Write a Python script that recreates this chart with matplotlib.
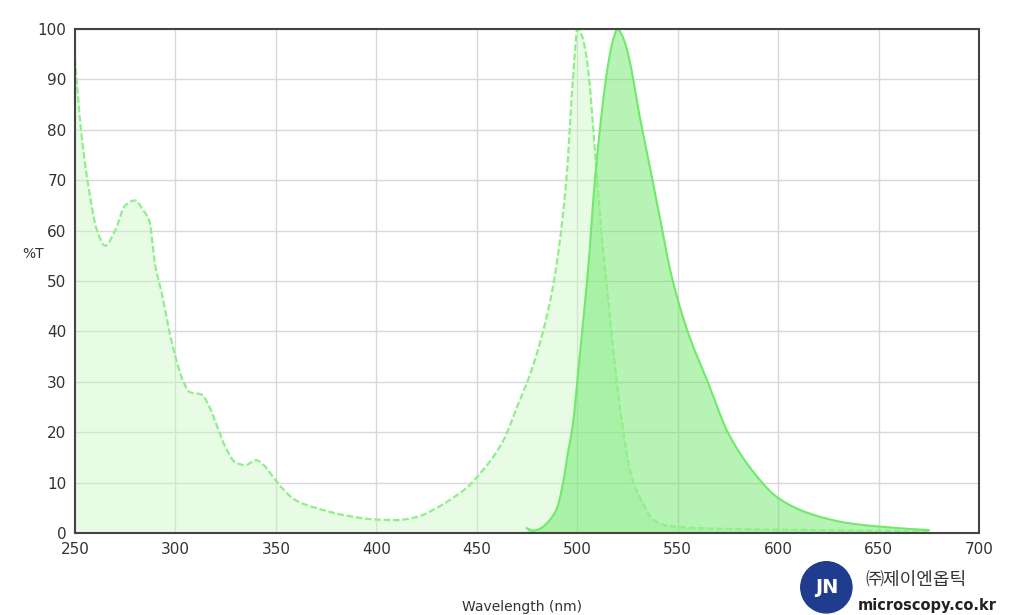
import matplotlib
matplotlib.use("Agg")
import matplotlib.pyplot as plt
import matplotlib.patches as mpatches
import numpy as np

ex_wl = [250, 253, 257, 261, 265, 270, 275, 280, 284, 287, 290, 293, 297, 300, 304, 307, 313, 317, 320, 325, 330, 335, 340, 344, 347, 353, 360, 370, 385, 400, 410, 420, 430, 440, 445, 452, 458, 464, 470, 477, 483, 488, 492, 495, 497, 499, 500, 502, 504, 506, 508, 510, 512, 515, 517, 520, 523, 526, 530, 534, 537, 541, 545, 560, 600, 650, 675]
ex_val = [94, 80, 68, 60, 57, 60, 65, 66, 64, 62, 53, 48, 40, 35, 30, 28, 27.5, 25, 22, 17, 14, 13.5, 14.5, 13.5, 12, 9, 6.5, 5, 3.5, 2.7, 2.6, 3.2, 5, 7.5, 9, 12, 15, 19, 25, 32, 40, 49, 60, 72, 85, 96, 100, 99, 96, 90, 80, 70, 60, 48, 40, 29, 20, 13, 8, 5, 3, 2, 1.5, 1, 0.7, 0.5, 0.3]
em_wl = [475, 478, 482, 485, 488, 490, 493, 495, 498, 500, 503, 506, 508, 510, 513, 515, 518, 520, 522, 524, 527, 530, 535, 540, 547, 555, 565, 575, 588, 600, 615, 635, 660, 675]
em_val = [1, 0.5, 1, 2, 3.5, 5, 10, 15, 22, 30, 42, 55, 66, 75, 86, 92, 98, 100, 99, 97, 92, 85, 75, 65, 51, 40, 30, 20, 12, 7, 4, 2, 1, 0.6]


def pchip(xk, yk, x):
    xk = np.asarray(xk, float); yk = np.asarray(yk, float)
    h = np.diff(xk); d = np.diff(yk) / h
    m = np.zeros_like(yk)
    for k in range(1, len(xk) - 1):
        if d[k - 1] * d[k] > 0:
            w1 = 2 * h[k] + h[k - 1]; w2 = h[k] + 2 * h[k - 1]
            m[k] = (w1 + w2) / (w1 / d[k - 1] + w2 / d[k])
    m[0] = d[0]; m[-1] = d[-1]
    i = np.clip(np.searchsorted(xk, x) - 1, 0, len(xk) - 2)
    t = (x - xk[i]) / h[i]
    h00 = 2 * t**3 - 3 * t**2 + 1; h10 = t**3 - 2 * t**2 + t
    h01 = -2 * t**3 + 3 * t**2; h11 = t**3 - t**2
    return h00 * yk[i] + h10 * h[i] * m[i] + h01 * yk[i + 1] + h11 * h[i] * m[i + 1]


x_ex = np.linspace(250, 675, 3000)
y_ex = pchip(ex_wl, ex_val, x_ex)
x_em = np.linspace(475, 675, 1500)
y_em = pchip(em_wl, em_val, x_em)

fig = plt.figure(figsize=(10.24, 6.15), dpi=100)
ax = fig.add_axes([0.0732, 0.133, 0.8828, 0.820])
ax.fill_between(x_ex, y_ex, color="#c6f7c0", alpha=0.4, lw=0)
ax.plot(x_ex, y_ex, color="#8ff08a", lw=1.6, ls=(0, (3, 1.2)))
ax.fill_between(x_em, y_em, color="#5ee65a", alpha=0.45, lw=0)
ax.plot(x_em, y_em, color="#6fea6a", lw=1.5)

ax.set_xlim(250, 700)
ax.set_ylim(0, 100)
ax.set_xticks(range(250, 701, 50))
ax.set_yticks(range(0, 101, 10))
ax.grid(True, color="#d8d8d8", lw=1)
ax.set_axisbelow(True)
for s in ax.spines.values():
    s.set_color("#444444"); s.set_linewidth(1.5)
ax.tick_params(length=0, labelsize=11, colors="#333333", pad=6)
fig.text(0.022, 0.58, "%T", fontsize=10, color="#333333")
fig.text(0.51, 0.007, "Wavelength (nm)", fontsize=10, color="#333333", ha="center")

# logo
fig.patches.append(mpatches.Ellipse((0.807, 0.045), 0.05, 0.05 * 1024 / 615, transform=fig.transFigure,
                                    color="#1f3c8f", zorder=5))
fig.text(0.807, 0.045, "JN", color="white", fontsize=14, fontweight="bold", ha="center", va="center", zorder=6)
fig.text(0.845, 0.05, "㈜제이엔옵틱", fontsize=13, color="#333333",
         family=["Noto Sans CJK KR", "DejaVu Sans"])
fig.text(0.838, 0.008, "microscopy.co.kr", fontsize=10.5, fontweight="bold", color="#222222")

fig.savefig("out.png", dpi=100, facecolor="white")
